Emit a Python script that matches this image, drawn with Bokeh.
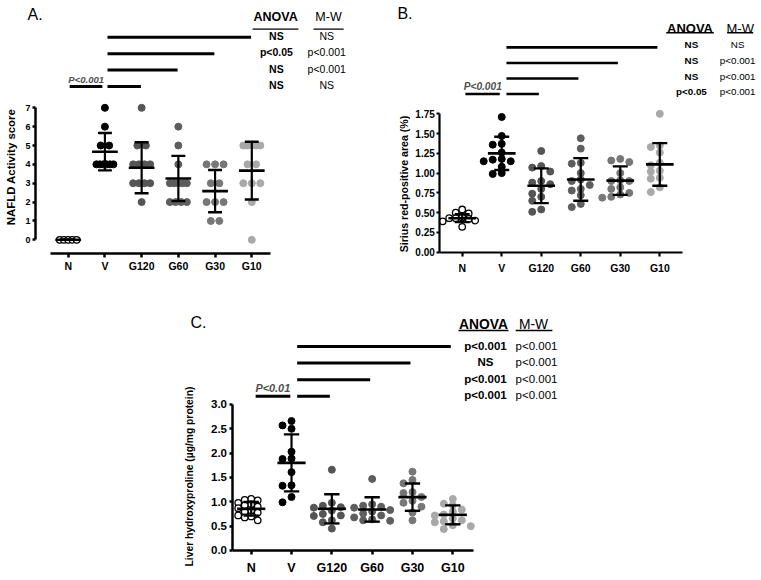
import numpy as np
from bokeh.plotting import figure
from bokeh.models import Range1d, FixedTicker, Label, Spacer, PrintfTickFormatter
from bokeh.layouts import column, row
from bokeh.embed import file_html
from bokeh.resources import INLINE

FONT = "Liberation Sans"

# ---------------- data ----------------
categories = ["N", "V", "G120", "G60", "G30", "G10"]
group_colors = ["#ffffff", "#000000", "#555555", "#5e5e5e", "#777777", "#a9a9a9"]
compare_targets = ["G10", "G30", "G60", "G120"]          # top to bottom

# Panel A: NAFLD activity score
a_N = [0, 0, 0, 0, 0]
a_V = [7, 6, 5, 5, 4, 4, 4, 4, 4, 4]
a_G120 = [7, 5, 5, 4, 4, 4, 4, 3, 3, 3, 3, 2]
a_G60 = [6, 5, 4, 3, 3, 3, 3, 3, 2, 2, 2, 2]
a_G30 = [4, 4, 4, 3, 3, 2, 2, 2, 1, 1]
a_G10 = [5, 5, 5, 5, 5, 4, 4, 3, 3, 3, 2, 0]
a_mean = [0.0, 4.67, 3.82, 3.25, 2.58, 3.67]
a_sd = [0.0, 0.99, 1.35, 1.20, 1.12, 1.53]
a_yticks = [0, 1, 2, 3, 4, 5, 6, 7]
a_anova = ["NS", "p<0.05", "NS", "NS"]
a_mw = ["NS", "p<0.001", "p<0.001", "NS"]
a_pval = "P<0.001"

# Panel B: Sirius red-positive area (%)
b_N = [0.54, 0.50, 0.49, 0.44, 0.43, 0.43, 0.42, 0.40, 0.39, 0.32]
b_V = [1.71, 1.47, 1.37, 1.36, 1.26, 1.18, 1.17, 1.15, 1.15, 1.08, 1.00, 0.99]
b_G120 = [1.28, 1.09, 1.07, 1.02, 0.90, 0.88, 0.86, 0.80, 0.74, 0.70, 0.65, 0.54, 0.51]
b_G60 = [1.44, 1.31, 1.13, 1.12, 1.00, 0.92, 0.90, 0.85, 0.80, 0.78, 0.72, 0.61, 0.57]
b_G30 = [1.18, 1.16, 1.14, 1.00, 0.91, 0.90, 0.90, 0.82, 0.80, 0.75, 0.73, 0.70, 0.69]
b_G10 = [1.75, 1.35, 1.33, 1.26, 1.13, 1.10, 1.03, 1.02, 0.94, 0.93, 0.82, 0.76]
b_mean = [0.43, 1.25, 0.84, 0.92, 0.905, 1.11]
b_sd = [0.05, 0.21, 0.22, 0.27, 0.18, 0.27]
b_yticks = [0, 0.25, 0.5, 0.75, 1.0, 1.25, 1.5, 1.75]
b_anova = ["NS", "NS", "NS", "p<0.05"]
b_mw = ["NS", "p<0.001", "p<0.001", "p<0.001"]
b_pval = "P<0.001"

# Panel C: Liver hydroxyproline (ug/mg protein)
c_N = [1.06, 1.04, 1.03, 0.98, 0.95, 0.93, 0.90, 0.87, 0.82, 0.80, 0.78, 0.72, 0.70, 0.68, 0.62]
c_V = [2.66, 2.57, 2.50, 2.03, 1.89, 1.88, 1.61, 1.34, 1.33, 1.10, 0.99]
c_G120 = [1.66, 0.98, 0.92, 0.89, 0.88, 0.82, 0.75, 0.72, 0.71, 0.62, 0.58, 0.45]
c_G60 = [1.47, 0.95, 0.92, 0.90, 0.88, 0.83, 0.80, 0.76, 0.72, 0.68, 0.64, 0.62, 0.61]
c_G30 = [1.62, 1.45, 1.38, 1.20, 1.18, 1.10, 1.02, 0.98, 0.90, 0.78, 0.62]
c_G10 = [1.06, 0.96, 0.93, 0.84, 0.80, 0.74, 0.72, 0.66, 0.62, 0.60, 0.58, 0.52, 0.50, 0.44]
c_mean = [0.856, 1.80, 0.856, 0.843, 1.096, 0.733]
c_sd = [0.14, 0.585, 0.30, 0.25, 0.28, 0.195]
c_yticks = [0, 0.5, 1.0, 1.5, 2.0, 2.5, 3.0]
c_anova = ["p<0.001", "NS", "p<0.001", "p<0.001"]
c_mw = ["p<0.001", "p<0.001", "p<0.001", "p<0.001"]
c_pval = "P<0.01"


# ---------------- helpers ----------------
def swarm_discrete(vals, sp_max, span):
    vals = np.asarray(vals, float)
    offs = np.zeros(len(vals))
    for v in np.unique(vals):
        idx = np.where(vals == v)[0]
        n = len(idx)
        if n > 1:
            sp = min(sp_max, span / (n - 1))
            offs[idx] = (np.arange(n) - (n - 1) / 2.0) * sp
    return offs


def swarm_greedy(vals, ypx, d, s):
    vals = np.asarray(vals, float)
    order = np.argsort(-vals, kind="stable")
    placed = []
    offs = np.zeros(len(vals))
    for i in order:
        y = vals[i] * ypx
        x = 0.0
        for k in [0, -1, 1, -2, 2, -3, 3]:
            x = k * s
            if all((x - px) ** 2 + (y - py) ** 2 >= d * d for px, py in placed):
                break
        placed.append((x, y))
        offs[i] = x
    return offs


def label(p, x, y, text, size, style="normal", color="black", align="center", angle=0.0):
    p.add_layout(Label(x=x, y=y, text=text, text_font=FONT, text_font_size=f"{size}px",
                       text_font_style=style, text_color=color, text_align=align,
                       text_baseline="middle", angle=angle))


def panel(groups, means, sds, yticks, fmt, anova, mw, pval, g):
    p = figure(width=g["w"], height=g["h"], x_range=Range1d(*g["xr"]), y_range=Range1d(*g["yr"]),
               output_backend="svg", toolbar_location=None,
               min_border_left=0, min_border_bottom=0, min_border_top=0, min_border_right=0)
    p.outline_line_color = None
    p.xgrid.visible = False
    p.ygrid.visible = False
    p.background_fill_color = "white"
    p.border_fill_color = "white"

    xpx = g["w"] / (g["xr"][1] - g["xr"][0])
    ypx = g["h"] / (g["yr"][1] - g["yr"][0])

    xa = p.xaxis[0]
    xa.fixed_location = g["xloc"]
    xa.ticker = FixedTicker(ticks=list(range(len(categories))))
    xa.major_label_overrides = {i: c for i, c in enumerate(categories)}
    xa.bounds = g["xb"]
    xa.axis_line_width = g["alw"]
    xa.major_tick_line_width = g["alw"]
    xa.major_tick_in = 0
    xa.major_tick_out = 4
    xa.minor_tick_line_color = None
    xa.major_label_text_font = FONT
    xa.major_label_text_font_size = f"{g['xfs']}px"
    xa.major_label_text_font_style = "bold"
    xa.major_label_text_color = "black"
    xa.major_label_standoff = g["xso"]

    ya = p.yaxis[0]
    ya.fixed_location = g["yloc"]
    ya.ticker = FixedTicker(ticks=yticks)
    ya.formatter = PrintfTickFormatter(format=fmt)
    ya.bounds = (yticks[0], yticks[-1])
    ya.axis_line_width = g["alw"]
    ya.major_tick_line_width = g["alw"]
    ya.major_tick_in = 0
    ya.major_tick_out = 3
    ya.minor_tick_line_color = None
    ya.major_label_text_font = FONT
    ya.major_label_text_font_size = f"{g['yfs']}px"
    ya.major_label_text_font_style = "bold"
    ya.major_label_text_color = "black"
    ya.major_label_standoff = 2

    # points
    for gi, vals in enumerate(groups):
        if g["discrete"]:
            offs = swarm_discrete(vals, 8.5, 17.0)
        elif gi == 0:
            offs = swarm_greedy(vals, ypx, 5.0, 6.5)
        else:
            offs = swarm_greedy(vals, ypx, 6.0, 9.0)
        xs = gi + offs / xpx
        if gi == 0:
            p.scatter(xs, vals, size=6.5, fill_color="white", line_color="black", line_width=1.3)
        else:
            p.scatter(xs, vals, size=7, fill_color=group_colors[gi], line_color=group_colors[gi])

    # mean +- SD
    idx = np.arange(len(categories), dtype=float)
    m = np.asarray(means)
    s = np.asarray(sds)
    p.segment(idx, m - s, idx, m + s, line_color="black", line_width=2.2)
    p.segment(idx - 0.35, m, idx + 0.35, m, line_color="black", line_width=2.6)
    p.segment(idx - 0.19, m + s, idx + 0.19, m + s, line_color="black", line_width=2.4)
    p.segment(idx - 0.19, m - s, idx + 0.19, m - s, line_color="black", line_width=2.4)

    # comparison bars (top to bottom)
    levels = [g["lv0"] + k * g["lvs"] for k in range(len(compare_targets))][::-1]
    ends = [categories.index(t) - g["endo"] for t in compare_targets]
    p.segment([g["ls"]] * len(ends), levels, ends, levels, line_color="black",
              line_width=g["clw"], line_cap="butt")
    p.segment([g["ps"][0]], [g["lv0"]], [g["ps"][1]], [g["lv0"]], line_color="black",
              line_width=g["clw"], line_cap="butt")
    label(p, g["ptx"], g["pty"], pval, g["pfs"], "bold italic", "#505050")

    # table
    label(p, g["hax"], g["hy"], "ANOVA", g["hfs"], "bold")
    label(p, g["hmx"], g["hy"], "M-W", g["hfs"], "normal")
    p.segment([g["hau"][0], g["hmu"][0]], [g["huy"]] * 2, [g["hau"][1], g["hmu"][1]], [g["huy"]] * 2,
              line_color="black", line_width=1.3)
    for r in range(len(levels)):
        label(p, g["vax"], levels[r] + g["vdy"], anova[r], g["vfs"], "bold")
        label(p, g["vmx"], levels[r] + g["vdy"], mw[r], g["vfs"], g["mwst"])

    # panel letter and y-axis title
    label(p, g["lx"], g["ly"], g["letter"], 16, "normal", "black", "left")
    label(p, g["tx"], g["ty"], g["title"], g["tfs"], "bold", "black", "center", np.pi / 2)
    return p


geomA = dict(w=380, h=290, xr=(-1.8437, 8.505), yr=(-2.6887, 12.690),
             xloc=-0.7106, yloc=-0.8905,
             xb=(-0.48, 5.51), alw=2.5, xfs=10.5, yfs=9, xso=3, discrete=True,
             lv0=8.13, lvs=0.87, endo=0.02, ls=1.07, clw=3, ps=(0.04, 0.93),
             ptx=0.49, pty=8.52, pfs=9.5,
             hax=5.65, hmx=7.09, hy=11.80, hfs=12.5, hau=(5.02, 6.27), hmu=(6.68, 7.50), huy=11.17,
             vax=5.67, vmx=7.04, vdy=0.08, vfs=10.5, mwst="normal",
             letter="A.", lx=-1.106, ly=11.95, title="NAFLD Activity score", tx=-1.558, ty=3.86, tfs=11.4)

geomB = dict(w=381, h=290, xr=(-2.0673, 7.5734), yr=(-0.4849, 3.1837),
             xloc=0.0, yloc=-0.5668,
             xb=(-0.5668, 5.574), alw=2.2, xfs=10.5, yfs=10, xso=6, discrete=False,
             lv0=2.0, lvs=0.197, endo=0.06, ls=1.12, clw=2.6, ps=(0.08, 0.95),
             ptx=0.52, pty=2.096, pfs=10.2,
             hax=5.764, hmx=7.034, hy=2.833, hfs=13, hau=(5.162, 6.366), hmu=(6.705, 7.363), huy=2.776,
             vax=5.80, vmx=6.97, vdy=0.03, vfs=9.8, mwst="normal",
             letter="B.", lx=-1.64, ly=3.015, title="Sirius red-positive area (%)", tx=-1.485, ty=0.862, tfs=10.6)

geomC = dict(w=400, h=288, xr=(-1.7535, 8.167), yr=(-0.5753, 5.342),
             xloc=0.0, yloc=-0.476,
             xb=(-0.476, 5.52), alw=2.5, xfs=12.5, yfs=11.5, xso=7, discrete=False,
             lv0=3.17, lvs=0.34, endo=0.05, ls=1.14, clw=3, ps=(0.11, 0.97),
             ptx=0.536, pty=3.335, pfs=10.9,
             hax=5.761, hmx=7.0, hy=4.643, hfs=13.8, hau=(5.14, 6.38), hmu=(6.56, 7.47), huy=4.52,
             vax=5.81, vmx=7.076, vdy=0.02, vfs=11.5, mwst="normal",
             letter="C.", lx=-1.506, ly=4.685, title="Liver hydroxyproline (\u00b5g/mg protein)",
             tx=-1.530, ty=1.52, tfs=10.3)

pA = panel([a_N, a_V, a_G120, a_G60, a_G30, a_G10], a_mean, a_sd, a_yticks, "%d",
           a_anova, a_mw, a_pval, geomA)
pB = panel([b_N, b_V, b_G120, b_G60, b_G30, b_G10], b_mean, b_sd, b_yticks, "%.2f",
           b_anova, b_mw, b_pval, geomB)
pC = panel([c_N, c_V, c_G120, c_G60, c_G30, c_G10], c_mean, c_sd, c_yticks, "%.1f",
           c_anova, c_mw, c_pval, geomC)

layout = column(row(pA, pB), row(Spacer(width=180, height=288), pC))

open("out.html", "w").write(file_html(layout, INLINE))
